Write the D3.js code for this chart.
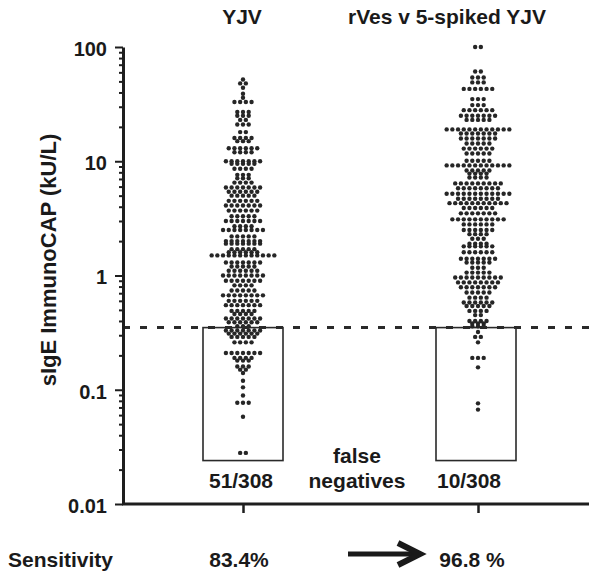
<!DOCTYPE html>
<html>
<head>
<meta charset="utf-8">
<script src="https://cdn.jsdelivr.net/npm/d3@7"></script>
<style>
  body { margin: 0; background: #fff; }
  svg text { font-family: "Liberation Sans", Arial, Helvetica, sans-serif; font-weight: bold; fill: #1a1a1a; }
</style>
</head>
<body>
<div id="chart"></div>
<script>
// ---------------------------------------
// data (sIgE in kU/L, number of dots at each level)
const groups = ["YJV", "rVes v 5-spiked YJV"];

const yjvLevels = [52, 48, 44, 39, 36, 33, 27, 25, 23, 21, 18, 16, 15, 13, 12, 10, 9.5, 8.6, 7.6, 7.1,
  6.5, 5.9, 5.4, 5.0, 4.5, 4.1, 3.7, 3.3, 3.0, 2.7, 2.5, 2.2, 2.0, 1.9, 1.7, 1.6, 1.5, 1.3, 1.2, 1.1,
  1.0, 0.90, 0.82, 0.74, 0.67, 0.60, 0.55, 0.49, 0.46, 0.42, 0.39, 0.36,
  0.33, 0.31, 0.29, 0.26, 0.21, 0.19, 0.18, 0.16, 0.15, 0.14, 0.12, 0.105, 0.089, 0.077, 0.058, 0.028];
const yjvCounts = [1, 2, 1, 1, 1, 4, 3, 3, 2, 3, 2, 4, 3, 6, 4, 7, 5, 4, 3, 3,
  4, 7, 6, 5, 6, 7, 6, 5, 7, 4, 8, 5, 7, 7, 5, 6, 12, 7, 5, 6,
  8, 7, 4, 5, 8, 6, 7, 5, 4, 7, 6, 3,
  7, 6, 5, 4, 7, 4, 3, 3, 2, 1, 1, 1, 1, 3, 1, 2];

const rvesLevels = [100, 61, 54, 49, 43, 35, 31, 28, 25, 23, 19, 17.5, 15.8, 14.3, 12.9, 11.7, 10.1, 9.2, 8.3, 7.8,
  7.2, 6.4, 5.8, 5.2, 4.7, 4.3, 3.9, 3.5, 3.1, 2.8, 2.5, 2.3, 2.1, 1.9, 1.8, 1.6, 1.4, 1.3, 1.17, 1.06,
  0.96, 0.87, 0.79, 0.71, 0.64, 0.58, 0.54, 0.49, 0.45, 0.40, 0.38, 0.36,
  0.32, 0.29, 0.26, 0.19, 0.157, 0.076, 0.067];
const rvesCounts = [2, 2, 3, 3, 6, 3, 3, 6, 7, 5, 12, 7, 7, 5, 6, 5, 5, 12, 5, 4,
  4, 9, 8, 12, 8, 11, 6, 7, 10, 6, 6, 4, 3, 4, 6, 6, 7, 5, 3, 5,
  9, 8, 7, 5, 4, 6, 5, 4, 2, 4, 3, 3,
  1, 2, 1, 3, 1, 1, 1];

const yTicks = [0.01, 0.1, 1, 10, 100];
const cutoff = 0.35;       // positivity cut-off, kU/L
const boxFloor = 0.024;    // lower edge of the false-negative boxes
const falseNeg = ["51/308", "10/308"];
const sensitivity = ["83.4%", "96.8 %"];

// ---------------------------------------
// svg params
const width = 589, height = 573;
const axisX = 123;
const dotR = 2.2, dotStep = 5.7; // horizontal spacing of dots in a row
const boxW = 80;

const svg = d3.select("#chart")
    .append("svg")
    .attr("width", width)
    .attr("height", height);

const y = d3.scaleLog()
    .domain([0.01, 100])
    .range([504, 47]);

const x = d3.scalePoint()
    .domain(groups)
    .range([243, 478]);

// ---------------------------------------
// false negative boxes
svg.selectAll(".fnbox")
    .data(groups)
    .enter()
    .append("rect")
    .attr("class", "fnbox")
    .attr("x", (d, i) => x(d) - boxW / 2 - (i === 1 ? 2 : 0))
    .attr("y", y(cutoff))
    .attr("width", boxW)
    .attr("height", y(boxFloor) - y(cutoff))
    .attr("fill", "none")
    .attr("stroke", "#2a2a2a")
    .attr("stroke-width", 1.6);

// ---------------------------------------
// dots: one row per level, spread around the column centre
function rows(group, levels, counts) {
  const out = [];
  levels.forEach((v, i) => {
    const n = counts[i];
    for (let k = 0; k < n; k++) {
      out.push({group: group, value: v, off: (k - (n - 1) / 2) * dotStep});
    }
  });
  return out;
}
const dots = rows(groups[0], yjvLevels, yjvCounts).concat(rows(groups[1], rvesLevels, rvesCounts));

svg.append("g")
    .selectAll("circle")
    .data(dots)
    .enter()
    .append("circle")
    .attr("cx", (d) => x(d.group) + d.off)
    .attr("cy", (d) => y(d.value))
    .attr("r", dotR)
    .attr("fill", "#262626");

// cut-off line
svg.append("line")
    .attr("x1", axisX)
    .attr("x2", width)
    .attr("y1", y(cutoff))
    .attr("y2", y(cutoff))
    .attr("stroke", "#2a2a2a")
    .attr("stroke-width", 3)
    .attr("stroke-dasharray", "7,10");

// ---------------------------------------
// y axis (log), major + minor ticks
const minor = y.ticks().filter((t) => yTicks.indexOf(t) === -1);

const gMinor = svg.append("g")
    .attr("transform", `translate(${axisX},0)`)
    .call(d3.axisLeft(y).tickValues(minor).tickSize(4).tickFormat(""));
gMinor.select(".domain").remove();

const gY = svg.append("g")
    .attr("transform", `translate(${axisX},0)`)
    .call(d3.axisLeft(y)
        .tickValues(yTicks)
        .tickSize(8)
        .tickSizeOuter(0)
        .tickPadding(8)
        .tickFormat((d) => d3.format("~g")(d)));

svg.selectAll(".tick line").attr("stroke", "#1e1e1e").attr("stroke-width", 2);
gY.select(".domain").attr("stroke", "#1e1e1e").attr("stroke-width", 3);
gY.selectAll("text")
    .attr("font-size", 20)
    .attr("dy", "0.42em")
    .attr("fill", "#1a1a1a");

svg.append("text")
    .attr("transform", `translate(56,260) rotate(-90)`)
    .attr("text-anchor", "middle")
    .attr("font-size", 22)
    .text("sIgE ImmunoCAP (kU/L)");

// x axis: baseline + group ticks
svg.append("line")
    .attr("x1", axisX - 1)
    .attr("x2", width)
    .attr("y1", y(0.01))
    .attr("y2", y(0.01))
    .attr("stroke", "#1e1e1e")
    .attr("stroke-width", 3);

const gX = svg.append("g")
    .attr("transform", `translate(0,${y(0.01)})`)
    .call(d3.axisBottom(x).tickSize(9).tickFormat(""));
gX.select(".domain").remove();
gX.selectAll(".tick line").attr("stroke", "#1e1e1e").attr("stroke-width", 2.5);

// ---------------------------------------
// titles
const titleX = [242, 447];
svg.selectAll(".ttl")
    .data(groups)
    .enter()
    .append("text")
    .attr("class", "ttl")
    .attr("x", (d, i) => titleX[i])
    .attr("y", 24)
    .attr("text-anchor", "middle")
    .attr("font-size", 21)
    .text((d) => d);

// false-negative counts
const fnX = [241, 469];
svg.selectAll(".fn")
    .data(falseNeg)
    .enter()
    .append("text")
    .attr("class", "fn")
    .attr("x", (d, i) => fnX[i])
    .attr("y", 488)
    .attr("text-anchor", "middle")
    .attr("font-size", 21)
    .attr("textLength", 64)
    .attr("lengthAdjust", "spacing")
    .text((d) => d);

svg.append("text")
    .attr("x", 357).attr("y", 463)
    .attr("text-anchor", "middle")
    .attr("font-size", 21)
    .text("false");
svg.append("text")
    .attr("x", 357).attr("y", 488)
    .attr("text-anchor", "middle")
    .attr("font-size", 21)
    .text("negatives");

// sensitivity row
svg.append("text")
    .attr("x", 8).attr("y", 567)
    .attr("font-size", 21)
    .text("Sensitivity");

const sensX = [239, 472];
svg.selectAll(".sens")
    .data(sensitivity)
    .enter()
    .append("text")
    .attr("class", "sens")
    .attr("x", (d, i) => sensX[i])
    .attr("y", 567)
    .attr("text-anchor", "middle")
    .attr("font-size", 21)
    .text((d) => d);

// arrow
const ay = 554;
svg.append("line")
    .attr("x1", 348).attr("x2", 418)
    .attr("y1", ay).attr("y2", ay)
    .attr("stroke", "#1a1a1a")
    .attr("stroke-width", 5);
svg.append("path")
    .attr("d", `M398,${ay - 11} L420,${ay} L398,${ay + 11}`)
    .attr("fill", "none")
    .attr("stroke", "#1a1a1a")
    .attr("stroke-width", 6)
    .attr("stroke-linejoin", "miter");
</script>
</body>
</html>
